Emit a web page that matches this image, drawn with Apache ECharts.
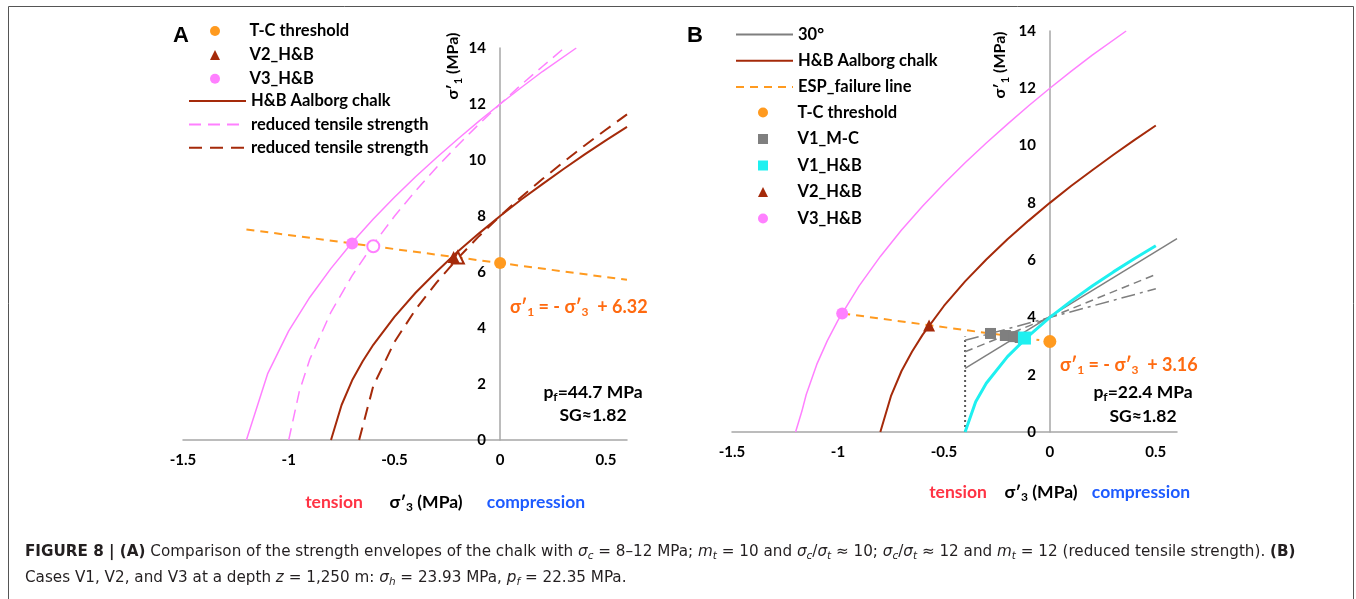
<!DOCTYPE html>
<html><head><meta charset="utf-8">
<script src="https://cdn.jsdelivr.net/npm/echarts@6/dist/echarts.min.js"></script>
<style>html,body{margin:0;padding:0;background:#fff}#c{width:1356px;height:599px}</style>
</head><body><div id="c"></div>
<script>
// ---------- Panel A data: [sigma'3, sigma'1] in MPa ----------
const pinkCurveA = [[-1.2,0],[-1.1,2.36],[-1.0,3.90],[-0.9,5.10],[-0.8,6.13],[-0.7,7.05],[-0.6,7.89],[-0.5,8.67],[-0.4,9.40],[-0.3,10.09],[-0.2,10.75],[-0.1,11.39],[0,12.0],[0.1,12.59],[0.2,13.16],[0.36,14.0]];
const pinkDashA = [[-1.0,0],[-0.95,1.73],[-0.9,2.89],[-0.8,4.57],[-0.7,5.87],[-0.6,6.99],[-0.5,7.99],[-0.4,8.90],[-0.3,9.74],[-0.2,10.53],[-0.1,11.28],[0,12.0],[0.1,12.69],[0.2,13.34],[0.3,13.98]];
const redCurveA = [[-0.8,0],[-0.75,1.25],[-0.7,2.13],[-0.65,2.81],[-0.6,3.40],[-0.5,4.40],[-0.4,5.26],[-0.3,6.02],[-0.2,6.73],[-0.1,7.38],[0,8.0],[0.1,8.59],[0.2,9.14],[0.3,9.68],[0.4,10.20],[0.5,10.70],[0.6,11.18]];
const redDashA = [[-0.667,0],[-0.6,1.93],[-0.5,3.50],[-0.4,4.66],[-0.3,5.63],[-0.2,6.49],[-0.1,7.28],[0,8.0],[0.1,8.68],[0.2,9.32],[0.3,9.93],[0.4,10.52],[0.5,11.08],[0.6,11.63]];
const espLineA = [[-1.2,7.52],[0.6,5.72]];
const tcPointA = [[0,6.32]];
const v2PointA = [[-0.22,6.54]];
const v2OpenA = [[-0.2,6.52]];
const v3PointA = [[-0.7,7.02]];
const v3OpenA = [[-0.6,6.92]];

// ---------- Panel B data ----------
const pinkCurveB = [[-1.2,0],[-1.17,0.73],[-1.15,1.30],[-1.1,2.36],[-1.05,3.19],[-1.0,3.90],[-0.9,5.10],[-0.8,6.13],[-0.7,7.05],[-0.6,7.89],[-0.5,8.67],[-0.4,9.40],[-0.3,10.09],[-0.2,10.75],[-0.1,11.39],[0,12.0],[0.1,12.59],[0.2,13.16],[0.36,14.0]];
const redCurveB = [[-0.8,0],[-0.75,1.25],[-0.7,2.13],[-0.65,2.81],[-0.6,3.40],[-0.5,4.40],[-0.4,5.26],[-0.3,6.02],[-0.2,6.73],[-0.1,7.38],[0,8.0],[0.1,8.59],[0.2,9.14],[0.3,9.68],[0.4,10.20],[0.5,10.70]];
const espLineB = [[-0.98,4.14],[-0.05,3.21]];
const mc30B = [[-0.4,2.22],[0.6,6.75]];
const mcDashB = [[-0.4,2.8],[0.5,5.5]];
const mcDashDotB = [[-0.4,3.2],[0.5,5.0]];
const cutoffB = [[-0.4,0],[-0.4,3.33]];
const cyanCurveB = [[-0.4,0],[-0.35,1.06],[-0.3,1.70],[-0.2,2.63],[-0.1,3.36],[0,4.0],[0.1,4.57],[0.2,5.10],[0.3,5.59],[0.4,6.06],[0.5,6.5]];
const tcPointB = [[0,3.16]];
const v1mcPointsB = [[-0.28,3.44],[-0.21,3.37],[-0.17,3.33],[-0.14,3.30]];
const v1hbPointB = [[-0.12,3.28]];
const v2PointB = [[-0.57,3.72]];
const v3PointB = [[-0.98,4.14]];

const legendMarkersA = ['T-C threshold','V2_H&B','V3_H&B'];
const legendLinesA = ['H&B Aalborg chalk','reduced tensile strength','reduced tensile strength '];
const legendLinesB = ['30°','H&B Aalborg chalk','ESP_failure line'];
const legendMarkersB = ['T-C threshold','V1_M-C','V1_H&B','V2_H&B','V3_H&B'];

const PINK = '#FF80FF', RED = '#A52A0A', ORANGE = '#FF9A1F', GRAY = '#7F7F7F', CYAN = '#1EF0F0';
const FONT = 'Lato, "Open Sans", sans-serif';

function lineS(name, data, ax, color, width, type, z) {
  return {type:'line', name, data, xAxisIndex:ax, yAxisIndex:ax, symbol:'none', silent:true,
    lineStyle:{color, width, type}, itemStyle:{color}, z: z||2};
}
function scat(name, data, ax, symbol, size, color, open, z) {
  return {type:'scatter', name, data, xAxisIndex:ax, yAxisIndex:ax, symbol, symbolSize:size, symbolKeepAspect:true, silent:true,
    itemStyle: open ? {color:'#ffffff', borderColor:color, borderWidth:2, opacity:1} : {color, opacity:1}, z: z||5};
}
function xAx(idx) {
  return {type:'value', gridIndex:idx, min:-1.5, max:0.6, interval:0.5,
    axisLine:{onZero:false, lineStyle:{color:'#A6A6A6', width:1.5}}, axisTick:{show:false}, splitLine:{show:false},
    axisLabel:{showMaxLabel:false, margin:13, color:'#000', fontWeight:'bold', fontSize:15, fontFamily:FONT}};
}
function yAx(idx, off) {
  return {type:'value', gridIndex:idx, min:0, max:14, interval:2, position:'left', offset:off,
    axisLine:{show:true, onZero:false, lineStyle:{color:'#A6A6A6', width:1.5}}, axisTick:{show:false}, splitLine:{show:false},
    axisLabel:{margin:14, color:'#000', fontWeight:'bold', fontSize:15, fontFamily:FONT}};
}
const legTxt = {fontFamily:FONT, fontWeight:'bold', fontSize:16.5, color:'#000', lineHeight:16};
const legMarkTxt = Object.assign({}, legTxt, {padding:[0,0,0,24.5]});
function lineLegend(names, left, top, gap) {
  return {data: names.map(n => ({name:n, itemStyle:{color:'rgba(0,0,0,0)', borderColor:'rgba(0,0,0,0)', borderWidth:0}})),
    orient:'vertical', left, top, padding:0, itemWidth:57, itemHeight:11, itemGap:gap, selectedMode:false, textStyle:legTxt};
}
function markLegend(names, left, top, gap) {
  return {data: names, orient:'vertical', left, top, padding:0, itemWidth:10, itemHeight:10, itemGap:gap,
    selectedMode:false, symbolKeepAspect:true, textStyle:legMarkTxt};
}
const mT = {fontFamily:FONT, fontWeight:'bold', fontSize:16, fill:'#000', lineHeight:20};
const sT = {fontFamily:FONT, fontWeight:'bold', fontSize:11, fill:'#000', lineHeight:12, verticalAlign:'bottom'};
function rtext(x, y, text, color, size, align, rot) {
  const m = Object.assign({}, mT, {fill:color, fontSize:size, lineHeight:size+5});
  const s = Object.assign({}, sT, {fill:color, fontSize:Math.round(size*0.68), lineHeight:Math.round(size*0.75)});
  return {type:'text', x, y, rotation: rot||0, silent:true,
    style:{text, rich:{m, s}, align: align||'center', verticalAlign:'middle', fill:color}};
}
const capN = {fontFamily:'"DejaVu Sans", sans-serif', fontSize:15.2, fill:'#231F20', lineHeight:20};
const capB = Object.assign({}, capN, {fontWeight:'bold'});
const capI = Object.assign({}, capN, {fontStyle:'italic'});
const capIS = Object.assign({}, capN, {fontStyle:'italic', fontSize:10.5, lineHeight:12, verticalAlign:'bottom'});

const option = {
  animation:false,
  backgroundColor:'#ffffff',
  grid:[
    {left:183, top:48, width:444, height:392, containLabel:false, outerBoundsMode:'none'},
    {left:732, top:31, width:445, height:401, containLabel:false, outerBoundsMode:'none'}
  ],
  xAxis:[xAx(0), xAx(1)],
  yAxis:[yAx(0, -317), yAx(1, -318)],
  legend:[
    markLegend(legendMarkersA, 210, 22.5, 6.9),
    lineLegend(legendLinesA, 188, 92.5, 6.4),
    lineLegend(legendLinesB, 735, 26, 9.2),
    markLegend(legendMarkersB, 758, 104, 9.5)
  ],
  series:[
    // Panel A
    lineS('σc=12 H&B', pinkCurveA, 0, PINK, 1.5, 'solid'),
    lineS('reduced tensile strength', pinkDashA, 0, PINK, 1.5, [12,7]),
    lineS('H&B Aalborg chalk', redCurveA, 0, RED, 2, 'solid'),
    lineS('reduced tensile strength ', redDashA, 0, RED, 2, [13,8]),
    lineS('ESP_failure line', espLineA, 0, ORANGE, 2, [8,6]),
    scat('T-C threshold', tcPointA, 0, 'circle', 12, ORANGE),
    scat('V2 open A', v2OpenA, 0, 'triangle', 12, RED, true),
    scat('V2_H&B', v2PointA, 0, 'triangle', 12, RED),
    scat('V3 open A', v3OpenA, 0, 'circle', 12, PINK, true),
    scat('V3_H&B', v3PointA, 0, 'circle', 12, PINK),
    // Panel B
    lineS('σc=12 H&B', pinkCurveB, 1, PINK, 1.5, 'solid'),
    lineS('H&B Aalborg chalk', redCurveB, 1, RED, 2, 'solid'),
    lineS('cut-off', cutoffB, 1, '#595959', 2, [2,3]),
    lineS('M-C dashed', mcDashB, 1, GRAY, 1.5, [8,5]),
    lineS('M-C dash-dot', mcDashDotB, 1, GRAY, 1.5, [14,5,3,5]),
    lineS('30°', mc30B, 1, GRAY, 1.5, 'solid'),
    lineS('ESP_failure line', espLineB, 1, ORANGE, 2, [8,6]),
    lineS('V1 envelope', cyanCurveB, 1, CYAN, 3, 'solid', 3),
    scat('T-C threshold', tcPointB, 1, 'circle', 13, ORANGE),
    scat('V1_M-C', v1mcPointsB, 1, 'rect', 11, GRAY),
    scat('V1_H&B', v1hbPointB, 1, 'rect', 13, CYAN, false, 6),
    scat('V2_H&B', v2PointB, 1, 'triangle', 12, RED),
    scat('V3_H&B', v3PointB, 1, 'circle', 12, PINK)
  ],
  graphic:[
    {type:'rect', silent:true, shape:{x:8.5, y:6.5, width:1345, height:620}, style:{fill:'none', stroke:'#555', lineWidth:1}},
    {type:'text', x:181, y:36, silent:true, style:{text:'A', font:'bold 22px "Liberation Sans", Arial, sans-serif', fill:'#000', align:'center', verticalAlign:'middle'}},
    {type:'text', x:695, y:36, silent:true, style:{text:'B', font:'bold 22px "Liberation Sans", Arial, sans-serif', fill:'#000', align:'center', verticalAlign:'middle'}},
    rtext(453, 66, '{m|σ′}{s|1}{m| (MPa)}', '#000', 16, 'center', Math.PI/2),
    rtext(1000, 65, '{m|σ′}{s|1}{m| (MPa)}', '#000', 16, 'center', Math.PI/2),
    rtext(510, 307, '{m|σ′}{s|1}{m| = - σ′}{s|3}{m|  + 6.32}', '#FF6A10', 18, 'left'),
    rtext(1060, 365, '{m|σ′}{s|1}{m| = - σ′}{s|3}{m|  + 3.16}', '#FF6A10', 18, 'left'),
    rtext(593, 392, '{m|p}{s|f}{m|=44.7 MPa}', '#000', 17.5, 'center'),
    rtext(593, 415, '{m|SG≈1.82}', '#000', 17.5, 'center'),
    rtext(1143, 392, '{m|p}{s|f}{m|=22.4 MPa}', '#000', 17.5, 'center'),
    rtext(1143, 416, '{m|SG≈1.82}', '#000', 17.5, 'center'),
    rtext(334, 502, '{m|tension}', '#FF3344', 17.5, 'center'),
    rtext(426, 502, '{m|σ′}{s|3}{m| (MPa)}', '#000', 17.5, 'center'),
    rtext(536, 502, '{m|compression}', '#1E5BFF', 17.5, 'center'),
    rtext(958, 492, '{m|tension}', '#FF3344', 17.5, 'center'),
    rtext(1041, 492, '{m|σ′}{s|3}{m| (MPa)}', '#000', 17.5, 'center'),
    rtext(1141, 492, '{m|compression}', '#1E5BFF', 17.5, 'center'),
    {type:'text', x:25, y:552, silent:true, style:{align:'left', verticalAlign:'middle', fill:'#231F20',
      text:'{b|FIGURE 8 | (A)}{n| Comparison of the strength envelopes of the chalk with }{i|σ}{is|c}{n| = 8–12 MPa; }{i|m}{is|t}{n| = 10 and }{i|σ}{is|c}{n|/}{i|σ}{is|t}{n| ≈ 10; }{i|σ}{is|c}{n|/}{i|σ}{is|t}{n| ≈ 12 and }{i|m}{is|t}{n| = 12 (reduced tensile strength). }{b|(B)}',
      rich:{n:capN, b:capB, i:capI, is:capIS}}},
    {type:'text', x:25, y:578, silent:true, style:{align:'left', verticalAlign:'middle', fill:'#231F20',
      text:'{n|Cases V1, V2, and V3 at a depth }{i|z}{n| = 1,250 m: }{i|σ}{is|h}{n| = 23.93 MPa, }{i|p}{is|f}{n| = 22.35 MPa.}',
      rich:{n:capN, b:capB, i:capI, is:capIS}}}
  ]
};
const chart = echarts.init(document.getElementById('c'));
chart.setOption(option);
</script>
</body></html>
